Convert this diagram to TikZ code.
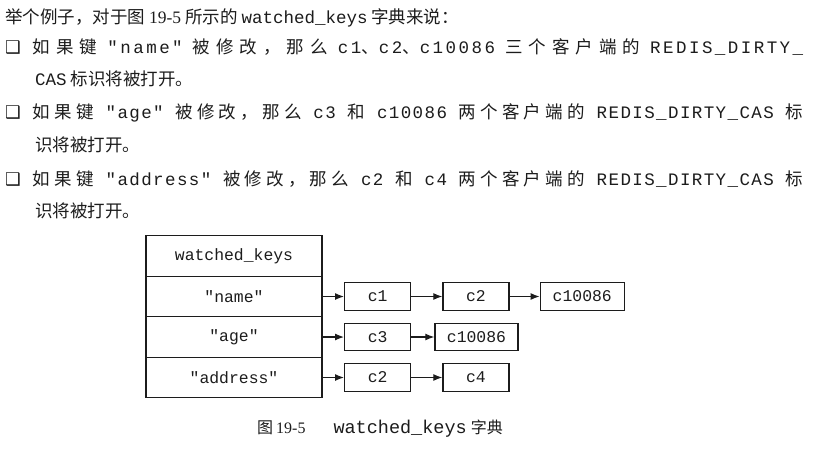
\documentclass[tikz,border=0pt]{standalone}
\usepackage{fontspec}
\newfontfamily\cjk{Noto Sans CJK SC}
\newfontfamily\symfont{DejaVu Sans}
\newfontfamily\numfont{Liberation Serif}
\setmonofont{Liberation Mono}
\usepackage{tikz}
\usepackage{xcolor}
\usetikzlibrary{positioning,arrows.meta}

\definecolor{ink}{HTML}{1C1C1C}
\newcommand{\kwfont}{\ttfamily}
\newcommand{\kw}[1]{{\kwfont #1}}
%% #1 width, #2 letter space of the han text, #3 of the code, #4 text
\newcommand{\spreadline}[4]{\hbox to #1{\cjk\fontsize{17.5}{20}\selectfont\addfontfeature{LetterSpace=#2}%
    \def\kwfont{\ttfamily\addfontfeature{LetterSpace=#3}}#4}}

\tikzset{
    textline/.style={anchor=west, inner sep=0pt, text=ink, font=\cjk\fontsize{17.5}{20}\selectfont},
    keycell/.style={draw=ink, line width=1.4pt, minimum width=176pt, minimum height=40.5pt,
        inner sep=0pt, outer sep=0pt, text=ink, font=\ttfamily\fontsize{16.4}{18}\selectfont},
    clientbox/.style={draw=ink, line width=1.3pt, minimum width=66pt, minimum height=27.5pt,
        inner sep=0pt, text=ink, font=\ttfamily\fontsize{16.4}{18}\selectfont},
    pointer/.style={-{Latex[length=9pt,width=7pt]}, line width=1.2pt, draw=ink}
}

\begin{document}
\begin{tikzpicture}[x=1pt, y=-1pt]
    \useasboundingbox[fill=white] (0, 0) rectangle (813, 453);

        %%text
        \node[textline] (intro) at (5, 18)
            {举个例子，对于图 {\numfont 19-5} 所示的 \kw{watched\_keys} 字典来说：};
        \node[textline] (itemname) at (5, 47)
            {\spreadline{798pt}{34}{14}{{\symfont ❑}\hspace{12pt}如果键 \kw{"name"} 被修改，那么 \kw{c1}、\kw{c2}、\kw{c10086} 三个客户端的 \kw{REDIS\_DIRTY\_}}};
            \node[textline] (itemnamecont) at (35, 79) {\kw{CAS} 标识将被打开。};
        \node[textline] (itemage) at (5, 113)
            {\spreadline{798pt}{24}{8}{{\symfont ❑}\hspace{12pt}如果键 \kw{"age"} 被修改，那么 \kw{c3} 和 \kw{c10086} 两个客户端的 \kw{REDIS\_DIRTY\_CAS} 标}};
            \node[textline] (itemagecont) at (35, 145) {识将被打开。};
        \node[textline] (itemaddr) at (5, 179)
            {\spreadline{798pt}{24}{8}{{\symfont ❑}\hspace{12pt}如果键 \kw{"address"} 被修改，那么 \kw{c2} 和 \kw{c4} 两个客户端的 \kw{REDIS\_DIRTY\_CAS} 标}};
            \node[textline] (itemaddrcont) at (35, 211) {识将被打开。};

        %%dict
        \node[keycell] (hdr) at (234, 256) {watched\_keys};
        \node[keycell, below=0pt of hdr] (kname) {"name"};
        \node[keycell, below=0pt of kname] (kage) {"age"};
        \node[keycell, below=0pt of kage] (kaddr) {"address"};

        %%name
            \node[clientbox, right=22pt of kname] (nameA) {c1};
            \node[clientbox, right=31pt of nameA] (nameB) {c2};
            \node[clientbox, right=30pt of nameB, minimum width=84pt] (nameC) {c10086};
                \draw[pointer] (kname) -- (nameA);
                \draw[pointer] (nameA) -- (nameB);
                \draw[pointer] (nameB) -- (nameC);

        %%age
            \node[clientbox, right=22pt of kage] (ageA) {c3};
            \node[clientbox, right=23pt of ageA, minimum width=83pt] (ageB) {c10086};
                \draw[pointer] (kage) -- (ageA);
                \draw[pointer] (ageA) -- (ageB);

        %%address
            \node[clientbox, right=22pt of kaddr] (addrA) {c2};
            \node[clientbox, right=31pt of addrA] (addrB) {c4};
                \draw[pointer] (kaddr) -- (addrA);
                \draw[pointer] (addrA) -- (addrB);

        %%caption
        \node[textline, font=\cjk\fontsize{16}{19}\selectfont] (caption) at (257, 429)
            {图\hspace{3pt}{\numfont 19-5}\hspace{28pt}{\ttfamily\fontsize{18.5}{20}\selectfont watched\_keys}\hspace{4pt}字典};
\end{tikzpicture}
\end{document}
